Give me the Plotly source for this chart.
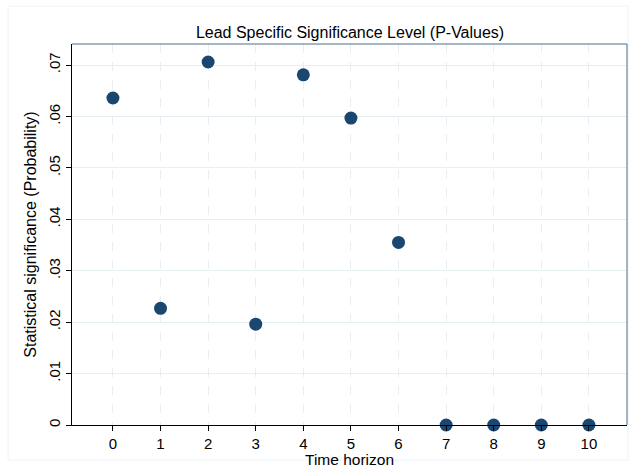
import plotly.graph_objects as go

horizon = [0, 1, 2, 3, 4, 5, 6, 7, 8, 9, 10]
p_values = [0.0636, 0.0227, 0.0706, 0.0196, 0.0681, 0.0597, 0.0355, 0.0, 0.0, 0.0, 0.0]
y_tick_vals = [0, 0.01, 0.02, 0.03, 0.04, 0.05, 0.06, 0.07]
y_tick_text = ["0", ".01", ".02", ".03", ".04", ".05", ".06", ".07"]

navy = "#1a476f"
grid = "#e6eff1"

fig = go.Figure()
fig.add_trace(go.Scatter(
    x=horizon, y=p_values, mode="markers",
    marker=dict(color=navy, size=13, line=dict(width=0)),
    cliponaxis=False, showlegend=False,
))

font = "Liberation Sans, Arial, sans-serif"
fig.update_layout(
    width=629, height=468,
    margin=dict(l=72, r=2, t=44, b=43),
    paper_bgcolor="white", plot_bgcolor="white",
    font=dict(family=font, size=16, color="black"),
    title=dict(text="Lead Specific Significance Level (P-Values)", x=0.5565, xanchor="center",
               y=1 - 32 / 468, yanchor="middle", font=dict(size=16, color="black")),
    xaxis=dict(
        range=[-0.86, 10.8], tickvals=horizon, ticks="outside", ticklen=5, tickcolor="black",
        showgrid=True, gridcolor=grid, griddash="dash", gridwidth=1,
        showline=True, linecolor="black", linewidth=1, zeroline=False,
        title=dict(text="Time horizon", standoff=2, font=dict(size=15.5)),
        tickfont=dict(size=15),
    ),
    yaxis=dict(
        range=[0, 0.0741], tickvals=y_tick_vals, ticktext=y_tick_text, tickangle=-90,
        ticks="outside", ticklen=5, tickcolor="black",
        showgrid=True, gridcolor=grid, gridwidth=1,
        showline=True, linecolor="black", linewidth=1, zeroline=False,
        title=dict(text="Statistical significance (Probability)", standoff=5, font=dict(size=16)),
        tickfont=dict(size=15),
    ),
    shapes=[
        dict(type="line", xref="paper", yref="paper", x0=0, x1=1, y0=1, y1=1,
             line=dict(color="#4a6f8f", width=1)),
        dict(type="line", xref="paper", yref="paper", x0=1, x1=1, y0=0, y1=1,
             line=dict(color="#4a6f8f", width=1)),
        dict(type="rect", xref="paper", yref="paper",
             x0=(8 - 72) / 555, x1=(628 - 72) / 555, y0=(468 - 43 - 460) / 381, y1=(468 - 43 - 6) / 381,
             line=dict(color="#eef2f4", width=1), layer="below"),
    ],
)

fig.write_html("out.html")
